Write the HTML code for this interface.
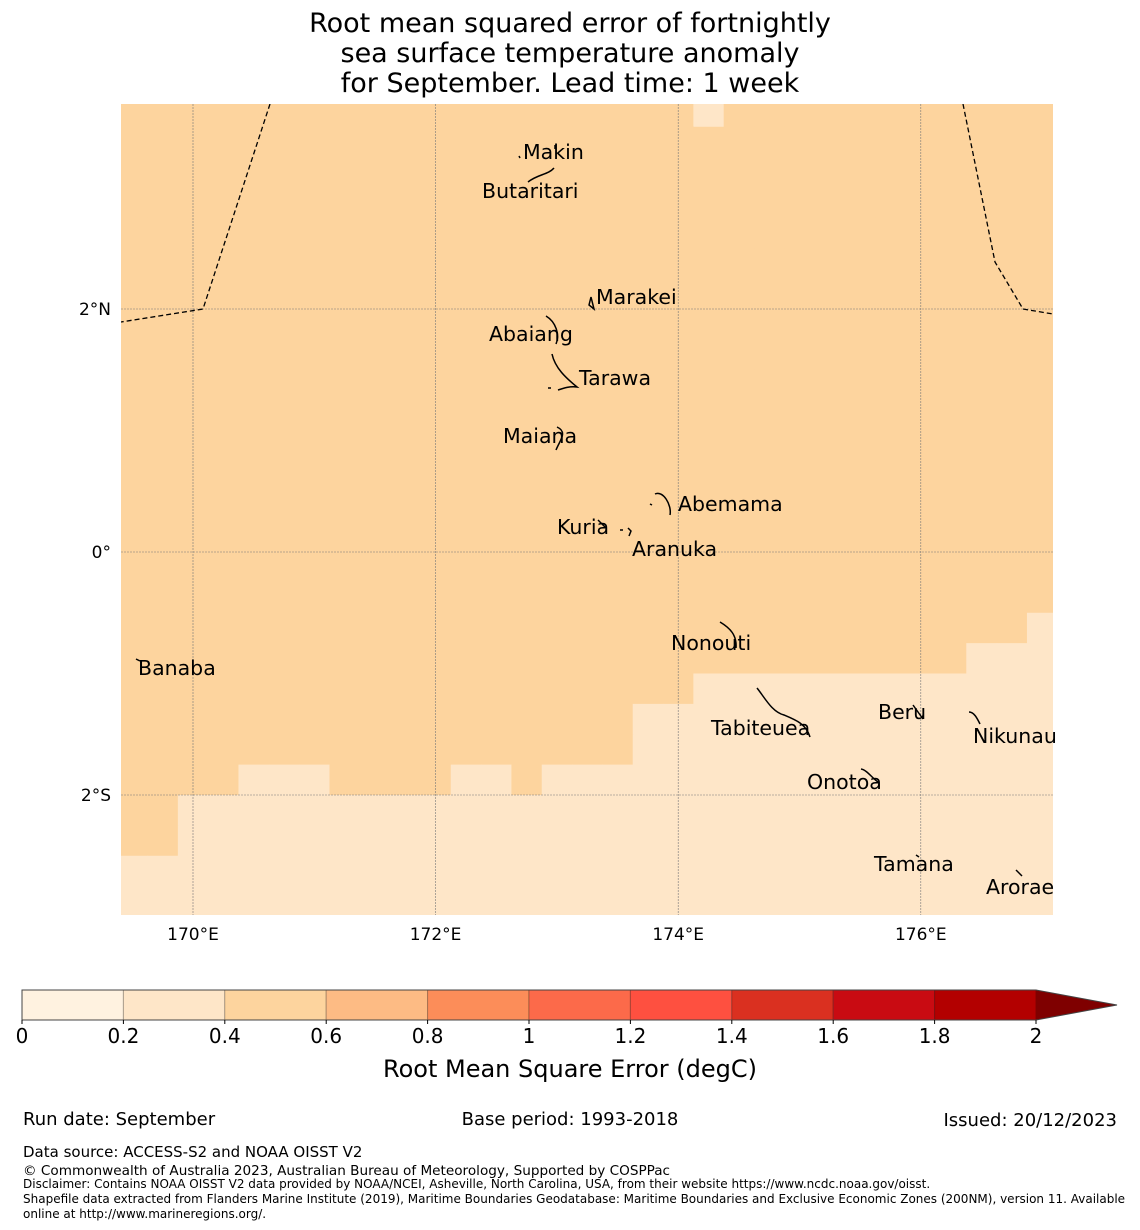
<!DOCTYPE html>
<html><head><meta charset="utf-8"><style>
body{margin:0;background:#fff;}
svg{display:block;font-family:"DejaVu Sans","Liberation Sans",sans-serif;}
</style></head><body>
<svg id="chart" width="1140" height="1230" viewBox="0 0 1140 1230">
<g font-size="27" text-anchor="middle" fill="#000">
<text x="570" y="32">Root mean squared error of fortnightly</text>
<text x="570" y="62">sea surface temperature anomaly</text>
<text x="570" y="92">for September. Lead time: 1 week</text>
</g>
<defs><clipPath id="mapclip"><rect x="121" y="104" width="932" height="811"/></clipPath></defs>
<g id="cells" clip-path="url(#mapclip)"></g>
<g id="grid"></g>
<g clip-path="url(#mapclip)" fill="none" stroke="#000" stroke-width="1.3" stroke-dasharray="5,3">
<path d="M270,104 L203,309 L121,322"/>
<path d="M963,104 L995,262 L1023,309 L1053,314"/>
</g>
<g fill="none" stroke="#000" stroke-width="1.5">
<path d="M554,168 C548,175 538,174 528,182"/><path d="M519,156 l1,2"/><path d="M555,145 l0,4"/>
<path d="M589,305 l2,-8 l3,12 z"/>
<path d="M546,316 C556,322 560,335 556,344"/>
<path d="M552,354 C555,368 566,378 577,387 C570,386 564,388 558,390"/><path d="M548,388 l3,0"/>
<path d="M557,427 C568,432 560,440 556,450"/>
<path d="M655,494 C663,490 672,505 670,515"/><path d="M650,504 l2,1"/>
<path d="M598,520 l8,8"/><path d="M620,530 l3,0 M628,528 l3,3 l-2,5"/>
<path d="M720,622 C730,628 737,635 736,648"/>
<path d="M136,659 l4,2"/>
<path d="M757,688 C765,698 772,712 784,715 C796,720 806,724 810,737"/>
<path d="M861,769 C867,770 872,778 878,782"/>
<path d="M913,705 l10,14"/>
<path d="M969,712 C974,712 977,718 980,724"/>
<path d="M916,855 l3,2"/>
<path d="M1016,870 l6,6"/>
</g>
<g font-size="20.5" fill="#000">
<text x="523" y="159">Makin</text>
<text x="482" y="198">Butaritari</text>
<text x="596" y="304">Marakei</text>
<text x="489" y="341">Abaiang</text>
<text x="579" y="385">Tarawa</text>
<text x="503" y="443">Maiana</text>
<text x="678" y="511">Abemama</text>
<text x="557" y="534">Kuria</text>
<text x="632" y="556">Aranuka</text>
<text x="671" y="650">Nonouti</text>
<text x="138" y="675">Banaba</text>
<text x="878" y="719">Beru</text>
<text x="711" y="735">Tabiteuea</text>
<text x="973" y="743">Nikunau</text>
<text x="807" y="789">Onotoa</text>
<text x="874" y="871">Tamana</text>
<text x="986" y="894">Arorae</text>
</g>
<g id="ticks" font-size="17" fill="#000"></g>
<g id="cbar"></g>
<text x="570" y="1077" font-size="24" text-anchor="middle">Root Mean Square Error (degC)</text>
<g fill="#000">
<text x="23" y="1125" font-size="18">Run date: September</text>
<text x="570" y="1125" font-size="18" text-anchor="middle">Base period: 1993-2018</text>
<text x="1117" y="1126" font-size="18" text-anchor="end">Issued: 20/12/2023</text>
<text x="23" y="1157" font-size="15">Data source: ACCESS-S2 and NOAA OISST V2</text>
<text x="23" y="1175" font-size="13.6">© Commonwealth of Australia 2023, Australian Bureau of Meteorology, Supported by COSPPac</text>
<text x="23" y="1188" font-size="12">Disclaimer: Contains NOAA OISST V2 data provided by NOAA/NCEI, Asheville, North Carolina, USA, from their website https://www.ncdc.noaa.gov/oisst.</text>
<text x="23" y="1203" font-size="12">Shapefile data extracted from Flanders Marine Institute (2019), Maritime Boundaries Geodatabase: Maritime Boundaries and Exclusive Economic Zones (200NM), version 11. Available</text>
<text x="23" y="1218" font-size="12">online at http://www.marineregions.org/.</text>
</g>
</svg>
<script>
const lonTicks=[170,172,174,176];
const lonTickLabels=["170°E","172°E","174°E","176°E"];
const latTicks=[2,0,-2];
const latTickLabels=["2°N","0°","2°S"];
const gridLon0=169.375, gridLat0=3.75, cellDeg=0.25;
const rows=[
"5555555555555555555355555555555",
"5555555555555555555555555555555","5555555555555555555555555555555","5555555555555555555555555555555",
"5555555555555555555555555555555","5555555555555555555555555555555","5555555555555555555555555555555",
"5555555555555555555555555555555","5555555555555555555555555555555","5555555555555555555555555555555",
"5555555555555555555555555555555","5555555555555555555555555555555","5555555555555555555555555555555",
"5555555555555555555555555555555","5555555555555555555555555555555","5555555555555555555555555555555",
"5555555555555555555555555555555",
"5555555555555555555555555555553",
"5555555555555555555555555555333",
"5555555555555555555333333333333",
"5555555555555555533333333333333",
"5555555555555555533333333333333",
"5555333555533533333333333333333",
"5533333333333333333333333333333",
"5533333333333333333333333333333",
"3333333333333333333333333333333",
"3333333333333333333333333333333"];
const cbarBounds=[0,0.2,0.4,0.6,0.8,1,1.2,1.4,1.6,1.8,2];
const cbarColors=["#fff2e0","#fee6c8","#fdd49e","#fdbb84","#fc8d59","#fc6a4a","#fe5040","#da3020","#c90b12","#b30000"];
const cbarOverColor="#7f0000";
const cbarTickLabels=["0","0.2","0.4","0.6","0.8","1","1.2","1.4","1.6","1.8","2"];
const NS="http://www.w3.org/2000/svg";
const xOf=lon=>193+(lon-170)*121.3;
const yOf=lat=>552-lat*121.5;
const cx=v=>22+v/2*1014;
function colorFor(v){for(let i=0;i<cbarColors.length;i++){if(v<cbarBounds[i+1])return cbarColors[i];}return cbarOverColor;}
function mk(t,a,p){const e=document.createElementNS(NS,t);for(const k in a)e.setAttribute(k,a[k]);p.appendChild(e);return e;}
const cells=document.getElementById('cells');
rows.forEach((r,ri)=>{for(let ci=0;ci<r.length;ci++){const v=Number(r[ci])/10;
 const x0=xOf(gridLon0+ci*cellDeg),x1=xOf(gridLon0+(ci+1)*cellDeg);
 const y0=yOf(gridLat0-ri*cellDeg),y1=yOf(gridLat0-(ri+1)*cellDeg);
 const c=mk('rect',{x:x0,y:y0,width:x1-x0+0.6,height:y1-y0+0.6,fill:colorFor(v)},cells);
 
 }});
const grid=document.getElementById('grid'),ticks=document.getElementById('ticks');
lonTicks.forEach((l,i)=>{const x=xOf(l);
 mk('line',{x1:x,x2:x,y1:104,y2:915,stroke:'#777',"stroke-width":0.6,"stroke-dasharray":"2,1"},grid);
 const t=mk('text',{x:x,y:940,"text-anchor":"middle"},ticks);t.textContent=lonTickLabels[i];
 
 });
latTicks.forEach((l,i)=>{const y=yOf(l);
 mk('line',{x1:121,x2:1053,y1:y,y2:y,stroke:'#777',"stroke-width":0.6,"stroke-dasharray":"2,1"},grid);
 const t=mk('text',{x:111,y:y+6,"text-anchor":"end"},ticks);t.textContent=latTickLabels[i];
 
 });
const cb=document.getElementById('cbar');
cbarColors.forEach((c,i)=>{const x0=cx(cbarBounds[i]),x1=cx(cbarBounds[i+1]);
 const r=mk('rect',{x:x0,y:990,width:x1-x0,height:30,fill:c,stroke:'rgba(0,0,0,0.25)',"stroke-width":1},cb);
 
 });
const tri=mk('polygon',{points:`${cx(2)},990 1117,1005 ${cx(2)},1020`,fill:cbarOverColor},cb);


mk('path',{d:`M${cx(2)},990 L22,990 L22,1020 L${cx(2)},1020 L1117,1005 Z`,fill:'none',stroke:'#444',"stroke-width":1},cb);
cbarBounds.forEach((b,i)=>{const x=cx(b);
 mk('line',{x1:x,x2:x,y1:1020,y2:1024,stroke:'#000'},cb);
 const t=mk('text',{x:x,y:1043,"text-anchor":"middle","font-size":20},cb);t.textContent=cbarTickLabels[i];
 
 });
</script>
</body></html>
